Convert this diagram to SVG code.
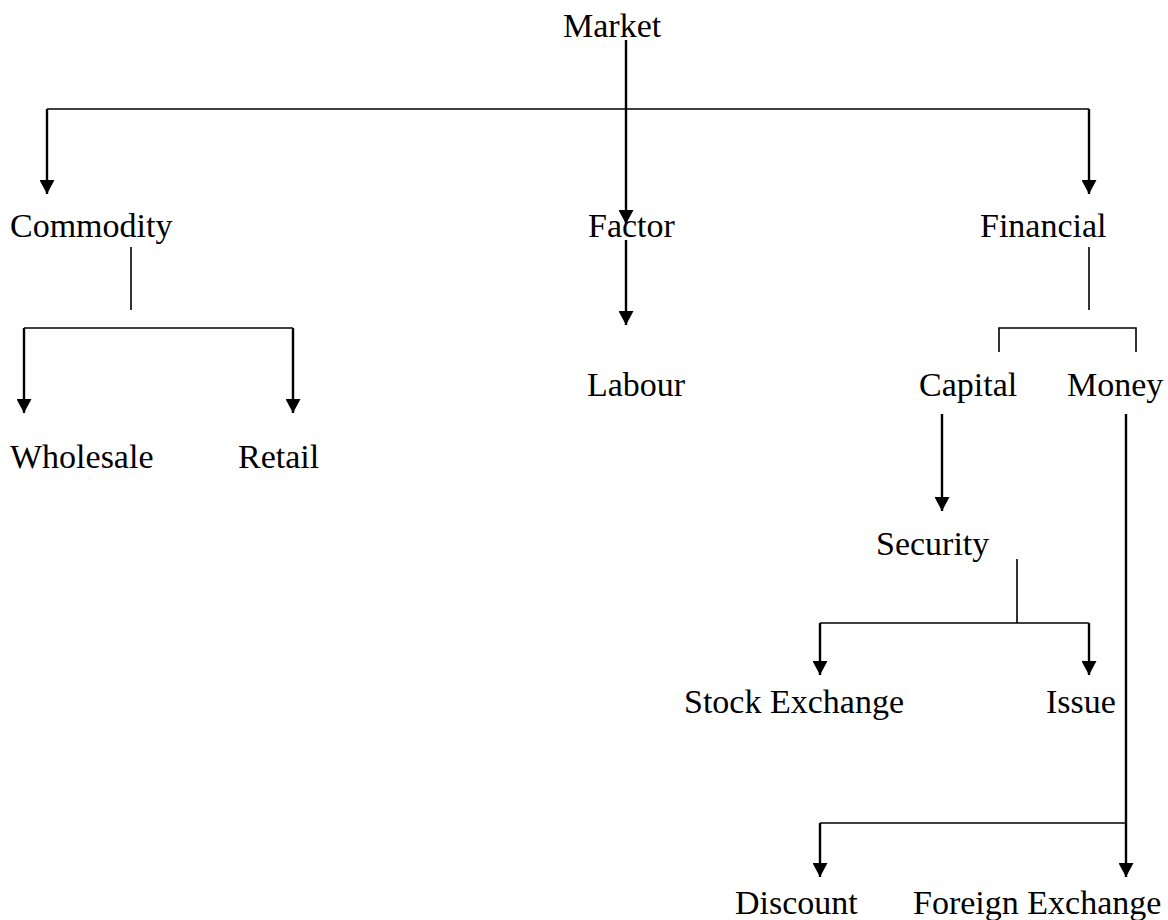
<svg xmlns="http://www.w3.org/2000/svg" width="1168" height="920" viewBox="0 0 1168 920">
<style>
text{font-family:"Liberation Serif","Times New Roman",serif;font-size:34px;fill:#000}
.a{stroke:#000;stroke-width:2.4;fill:none;marker-end:url(#ah)}
.l{stroke:#000;stroke-width:1.6;fill:none}
</style>
<defs>
<marker id="ah" viewBox="0 0 14 15" refX="14" refY="7.5" markerWidth="14" markerHeight="15" markerUnits="userSpaceOnUse" orient="auto">
<path d="M0,0 L14,7.5 L0,15 z" fill="#000"/>
</marker>
</defs>
<rect width="1168" height="920" fill="#fff"/>
<g id="connectors">
<line class="l" x1="47" y1="109" x2="1089" y2="109"/>
<polyline class="a" points="47,109 47,194"/>
<polyline class="a" points="1089,109 1089,194"/>
<line class="a" x1="626" y1="40" x2="626" y2="224"/>
<line class="a" x1="626" y1="240" x2="626" y2="325"/>
<line class="l" x1="131" y1="247" x2="131" y2="310"/>
<line class="l" x1="24" y1="328" x2="293" y2="328"/>
<line class="a" x1="24" y1="328" x2="24" y2="413"/>
<line class="a" x1="293" y1="328" x2="293" y2="413"/>
<line class="l" x1="1089" y1="247" x2="1089" y2="310"/>
<polyline class="l" points="999,352 999,328 1136,328 1136,352"/>
<line class="a" x1="942" y1="414" x2="942" y2="511"/>
<line class="l" x1="1017" y1="559" x2="1017" y2="623"/>
<line class="l" x1="820" y1="623" x2="1089" y2="623"/>
<line class="a" x1="820" y1="623" x2="820" y2="675"/>
<line class="a" x1="1089" y1="623" x2="1089" y2="675"/>
<line class="a" x1="1126" y1="414" x2="1126" y2="877"/>
<line class="l" x1="820" y1="823" x2="1126" y2="823"/>
<line class="a" x1="820" y1="823" x2="820" y2="877"/>
</g>
<g id="market"><text x="563" y="37">Market</text></g>
<g id="commodity"><text x="10" y="237">Commodity</text></g>
<g id="factor"><text x="588" y="237">Factor</text></g>
<g id="financial"><text x="980" y="237">Financial</text></g>
<g id="labour"><text x="587" y="396">Labour</text></g>
<g id="capital"><text x="919" y="396">Capital</text></g>
<g id="money"><text x="1067" y="396">Money</text></g>
<g id="wholesale"><text x="10" y="468">Wholesale</text></g>
<g id="retail"><text x="238" y="468">Retail</text></g>
<g id="security"><text x="876" y="555">Security</text></g>
<g id="stock-exchange"><text x="684" y="713">Stock Exchange</text></g>
<g id="issue"><text x="1046" y="713">Issue</text></g>
<g id="discount"><text x="735" y="914">Discount</text></g>
<g id="foreign-exchange"><text x="913" y="914">Foreign Exchange</text></g>
</svg>
